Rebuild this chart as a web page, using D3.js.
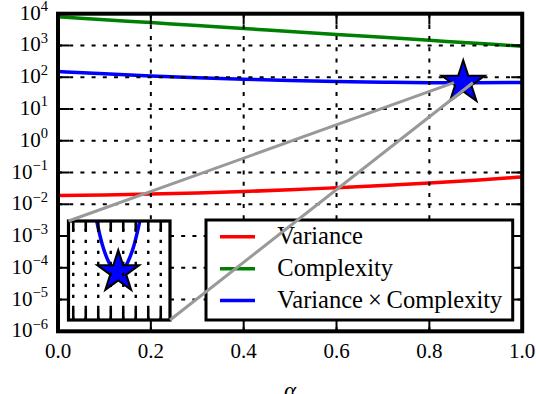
<!DOCTYPE html>
<html>
<head>
<meta charset="utf-8">
<script src="https://cdn.jsdelivr.net/npm/d3@7/dist/d3.min.js"></script>
<style>
  html, body { margin: 0; background: #fff; }
  svg { display: block; }
</style>
</head>
<body>
<div id="chart"></div>
<script>
// ── Data ──────────────────────────────────────────────────────
const alpha      = [0, 0.1, 0.2, 0.3, 0.4, 0.5, 0.6, 0.7, 0.8, 0.9, 1.0];
const variance   = [0.0189, 0.0197, 0.0210, 0.0227, 0.0252, 0.0286, 0.0331, 0.0387, 0.0465, 0.0573, 0.0724];
const complexity = [8040, 6490, 5240, 4230, 3420, 2760, 2230, 1800, 1450, 1170, 946];
const product    = [152, 128, 110, 96.2, 86.1, 78.8, 73.6, 69.5, 67.5, 67.1, 68.5];

const seriesNames  = ['Variance', 'Complexity', 'Variance\u2009×\u2009Complexity'];
const seriesColors = ['#ff0000', '#008000', '#0000ff'];

// minimum of Variance×Complexity (star)
const starAlpha = 0.873;
const starValue = 67.0;

// zoomed-in view around the minimum
const insetAlpha   = [0.863, 0.865, 0.867, 0.869, 0.871, 0.873, 0.875, 0.877, 0.879, 0.881, 0.883];
const insetProduct = [67.31, 67.20, 67.11, 67.05, 67.01, 67.00, 67.01, 67.05, 67.11, 67.20, 67.31];
const insetXDomain = [0.8531, 0.8937];
const insetYDomain = [66.782, 67.232];
const insetXTicks  = [0.855, 0.860, 0.865, 0.870, 0.875, 0.880, 0.885, 0.890];

const xTicks   = [0, 0.2, 0.4, 0.6, 0.8, 1.0];
const xLabels  = ['0.0', '0.2', '0.4', '0.6', '0.8', '1.0'];
const yDecades = [-6, -5, -4, -3, -2, -1, 0, 1, 2, 3, 4];

// ── Layout ────────────────────────────────────────────────────
const W = 536, H = 394;
const P = { left: 58, right: 522.2, top: 13.7, bottom: 331.3 };
const INSET = { left: 68.5, right: 170, top: 221, bottom: 320 };
const LEG = { left: 206, right: 512.7, top: 220, bottom: 320 };
const FONT = '"Liberation Serif", "Times New Roman", serif';
const GRID_DASH = '4,7.2';

const x = d3.scaleLinear().domain([0, 1]).range([P.left, P.right]);
const y = d3.scaleLog().domain([1e-6, 1e4]).range([P.bottom, P.top]);

const svg = d3.select('#chart').append('svg')
  .attr('width', W).attr('height', H)
  .attr('viewBox', `0 0 ${W} ${H}`);

const defs = svg.append('defs');
defs.append('clipPath').attr('id', 'plot-clip').append('rect')
  .attr('x', P.left).attr('y', P.top)
  .attr('width', P.right - P.left).attr('height', P.bottom - P.top);
defs.append('clipPath').attr('id', 'inset-clip').append('rect')
  .attr('x', INSET.left).attr('y', INSET.top)
  .attr('width', INSET.right - INSET.left).attr('height', INSET.bottom - INSET.top);

const starPath = R => d3.symbol(d3.symbolStar, R * R / 0.8908130915292852)();

// ── Curves ────────────────────────────────────────────────────
const seriesValues = [variance, complexity, product];
const line = d3.line()
  .x(d => x(d[0])).y(d => y(d[1]))
  .curve(d3.curveMonotoneX);

const curves = svg.append('g').attr('clip-path', 'url(#plot-clip)');
seriesValues.forEach((vals, i) => {
  curves.append('path')
    .datum(alpha.map((a, j) => [a, vals[j]]))
    .attr('d', line)
    .attr('fill', 'none')
    .attr('stroke', seriesColors[i])
    .attr('stroke-width', 3.5);
});

// ── Grid (drawn above the curves) ────────────────────────────
const grid = svg.append('g')
  .attr('stroke', '#000').attr('stroke-width', 2)
  .attr('stroke-dasharray', GRID_DASH);
yDecades.slice(1, -1).forEach(e => {
  grid.append('line')
    .attr('x1', P.left).attr('x2', P.right)
    .attr('y1', y(10 ** e)).attr('y2', y(10 ** e));
});
xTicks.slice(1, -1).forEach(t => {
  grid.append('line')
    .attr('x1', x(t)).attr('x2', x(t))
    .attr('y1', P.bottom).attr('y2', P.top);
});

// star at the minimum
svg.append('path')
  .attr('d', starPath(22.5))
  .attr('transform', `translate(${x(starAlpha)},${y(starValue)})`)
  .attr('fill', '#0000ff').attr('stroke', '#000').attr('stroke-width', 2);

// ── Ticks ─────────────────────────────────────────────────────
const ticks = svg.append('g').attr('stroke', '#000').attr('stroke-width', 2);
const MAJ = 11, MIN = 5.5;
yDecades.forEach(e => {
  const yy = y(10 ** e);
  ticks.append('line').attr('x1', P.left).attr('x2', P.left + MAJ).attr('y1', yy).attr('y2', yy);
  ticks.append('line').attr('x1', P.right).attr('x2', P.right - MAJ).attr('y1', yy).attr('y2', yy);
});
y.ticks().filter(v => Math.abs(Math.log10(v) - Math.round(Math.log10(v))) > 1e-9).forEach(v => {
  const yy = y(v);
  ticks.append('line').attr('x1', P.left).attr('x2', P.left + MIN).attr('y1', yy).attr('y2', yy);
  ticks.append('line').attr('x1', P.right).attr('x2', P.right - MIN).attr('y1', yy).attr('y2', yy);
});
xTicks.forEach(t => {
  ticks.append('line').attr('x1', x(t)).attr('x2', x(t)).attr('y1', P.bottom).attr('y2', P.bottom - MAJ);
  ticks.append('line').attr('x1', x(t)).attr('x2', x(t)).attr('y1', P.top).attr('y2', P.top + MAJ);
});

// spines
svg.append('rect')
  .attr('x', P.left).attr('y', P.top)
  .attr('width', P.right - P.left).attr('height', P.bottom - P.top)
  .attr('fill', 'none').attr('stroke', '#000').attr('stroke-width', 4);

// ── Tick labels ───────────────────────────────────────────────
yDecades.forEach(e => {
  const t = svg.append('text')
    .attr('x', 48).attr('y', y(10 ** e) + 6)
    .attr('text-anchor', 'end')
    .style('font-family', FONT).style('font-size', '21px');
  t.append('tspan').text('10');
  t.append('tspan').attr('dy', -8.5)
    .style('font-family', FONT).style('font-size', '14.5px')
    .text(e < 0 ? '\u2212' + (-e) : String(e));
});
xTicks.forEach((t, i) => {
  svg.append('text')
    .attr('x', x(t)).attr('y', 358)
    .attr('text-anchor', 'middle')
    .style('font-family', FONT).style('font-size', '21px')
    .text(xLabels[i]);
});
svg.append('text')
  .attr('x', (P.left + P.right) / 2).attr('y', 397.5)
  .attr('text-anchor', 'middle')
  .style('font-family', FONT).style('font-size', '23px').style('font-style', 'italic')
  .text('α');

// ── Legend ────────────────────────────────────────────────────
const legend = svg.append('g');
legend.append('rect')
  .attr('x', LEG.left).attr('y', LEG.top)
  .attr('width', LEG.right - LEG.left).attr('height', LEG.bottom - LEG.top)
  .attr('fill', '#fff').attr('stroke', '#000').attr('stroke-width', 3);
seriesNames.forEach((name, i) => {
  const ly = 236.8 + i * 31.9;
  legend.append('line')
    .attr('x1', 220).attr('x2', 255).attr('y1', ly).attr('y2', ly)
    .attr('stroke', seriesColors[i]).attr('stroke-width', 3.5);
  legend.append('text')
    .attr('x', 277.3).attr('y', ly + 7.5)
    .style('font-family', FONT).style('font-size', '24.5px')
    .text(name);
});

// ── Inset ─────────────────────────────────────────────────────
const ix = d3.scaleLinear().domain(insetXDomain).range([INSET.left, INSET.right]);
const iy = d3.scaleLinear().domain(insetYDomain).range([INSET.bottom, INSET.top]);
const inset = svg.append('g');
inset.append('rect')
  .attr('x', INSET.left).attr('y', INSET.top)
  .attr('width', INSET.right - INSET.left).attr('height', INSET.bottom - INSET.top)
  .attr('fill', '#fff');

const insetBody = inset.append('g').attr('clip-path', 'url(#inset-clip)');
insetBody.append('path')
  .datum(insetAlpha.map((a, j) => [a, insetProduct[j]]))
  .attr('d', d3.line().x(d => ix(d[0])).y(d => iy(d[1])).curve(d3.curveMonotoneX))
  .attr('fill', 'none').attr('stroke', '#0000ff').attr('stroke-width', 3.5);

const igrid = inset.append('g')
  .attr('stroke', '#000').attr('stroke-width', 2.4)
  .attr('stroke-dasharray', '3.3,7.7');
insetXTicks.forEach(t => {
  igrid.append('line')
    .attr('x1', ix(t)).attr('x2', ix(t))
    .attr('y1', INSET.bottom).attr('y2', INSET.top);
});

insetBody.append('path')
  .attr('d', starPath(22))
  .attr('transform', `translate(${ix(starAlpha)},${iy(starValue)})`)
  .attr('fill', '#0000ff').attr('stroke', '#000').attr('stroke-width', 2);

const iticks = inset.append('g').attr('stroke', '#000').attr('stroke-width', 2.6);
insetXTicks.forEach(t => {
  iticks.append('line').attr('x1', ix(t)).attr('x2', ix(t)).attr('y1', INSET.bottom).attr('y2', INSET.bottom - 11);
  iticks.append('line').attr('x1', ix(t)).attr('x2', ix(t)).attr('y1', INSET.top).attr('y2', INSET.top + 10);
});
inset.append('rect')
  .attr('x', INSET.left).attr('y', INSET.top)
  .attr('width', INSET.right - INSET.left).attr('height', INSET.bottom - INSET.top)
  .attr('fill', 'none').attr('stroke', '#000').attr('stroke-width', 3.2);

// ── Connectors from inset corners to the zoomed region ───────
const conn = svg.append('g').attr('stroke', '#999999').attr('stroke-width', 3);
conn.append('line')
  .attr('x1', INSET.left).attr('y1', INSET.top)
  .attr('x2', x(insetXDomain[0])).attr('y2', y(insetYDomain[1]));
conn.append('line')
  .attr('x1', INSET.right).attr('y1', INSET.bottom)
  .attr('x2', x(insetXDomain[1])).attr('y2', y(insetYDomain[0]));
</script>
</body>
</html>
